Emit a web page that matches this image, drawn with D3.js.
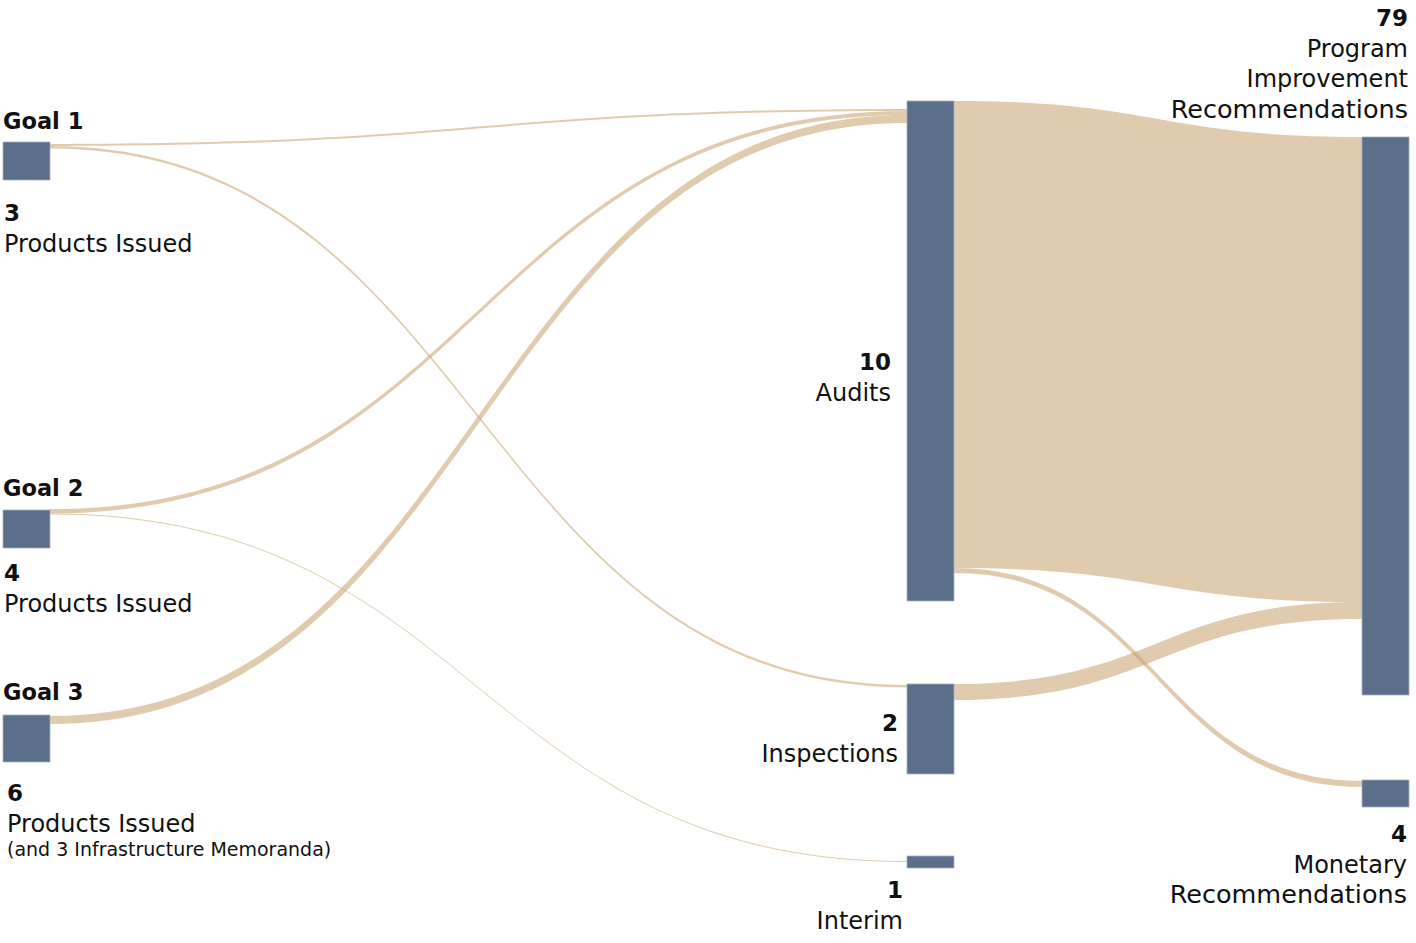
<!DOCTYPE html>
<html>
<head>
<meta charset="utf-8">
<script src="https://cdn.jsdelivr.net/npm/d3@7"></script>
<style>
    body { margin: 0; background: #fff; }
    svg { display: block; font-family: "DejaVu Sans", sans-serif; }
</style>
</head>
<body>
<div id="chart"></div>
<script>
// --- data ---
const nodeIds = ["goal1", "goal2", "goal3", "audits", "inspections", "interim", "program", "monetary"];
const nodeValues = [3, 4, 6, 10, 2, 1, 79, 4];
const nodeTitles = ["Goal 1", "Goal 2", "Goal 3", null, null, null, null, null];
const nodeLabels = [
    ["Products Issued"],
    ["Products Issued"],
    ["Products Issued"],
    ["Audits"],
    ["Inspections"],
    ["Interim"],
    ["Program", "Improvement", "Recommendations"],
    ["Monetary", "Recommendations"]
];
const nodeNotes = [null, null, "(and 3 Infrastructure Memoranda)", null, null, null, null, null];
const nodeColumn = [0, 0, 0, 1, 1, 1, 2, 2];

const linkSource = ["goal1", "goal1", "goal2", "goal2", "goal3", "audits", "audits", "inspections"];
const linkTarget = ["audits", "inspections", "audits", "interim", "audits", "program", "monetary", "program"];
const linkValues = [1, 2, 3, 1, 6, 68, 4, 11];

// --- layout (hand-placed in the original, not proportional to the values) ---
const W = 1416, H = 943;
const NODE_W = 47;
const colX = d3.scaleOrdinal().domain([0, 1, 2]).range([3, 907, 1362]);
const y = d3.scaleLinear().domain([0, H]).range([0, H]);

const nodeTop = [142, 510, 715, 101, 684, 856, 137, 780];
const nodeBottom = [180, 548, 762, 601, 774, 868, 695, 807];
// offset of the first outgoing / incoming band from the node top
const outOffset = [2, -1, 1, 0, 0, 0, 0, 0];
const inOffset = [0, 0, 0, 8, 1, 5, 0, 1];
// band thickness at source end and target end
const bandSource = [2, 2.5, 4.5, 1, 8, 467, 5, 16];
const bandTarget = [2, 2.5, 4, 1, 8, 465, 6, 17];

// label placement: x anchor, baseline of the number, baseline of the title
const labelX = [4, 4, 7, 891, 898, 903, 1408, 1407];
const numberY = [221, 581, 801, 370, 731, 898, 26, 842];
const titleY = [129, 496, 700];
const LINE = 30.5;

const NODE_FILL = "#5b6e8a";
const LINK_FILL = "rgb(200,160,110)";

const svg = d3.select("#chart").append("svg")
    .attr("width", W)
    .attr("height", H)
    .attr("viewBox", `0 0 ${W} ${H}`);

const nodes = nodeIds.map((id, i) => ({
    id,
    value: nodeValues[i],
    x0: colX(nodeColumn[i]),
    x1: colX(nodeColumn[i]) + NODE_W,
    y0: y(nodeTop[i]),
    y1: y(nodeBottom[i]),
    outY: y(nodeTop[i] + outOffset[i]),
    inY: y(nodeTop[i] + inOffset[i]),
    index: i
}));
const byId = new Map(nodes.map(n => [n.id, n]));

// stack bands on each node in link order
const links = linkSource.map((s, i) => {
    const src = byId.get(s);
    const tgt = byId.get(linkTarget[i]);
    const l = {
        source: src, target: tgt, value: linkValues[i],
        sy: src.outY, sw: bandSource[i],
        ty: tgt.inY, tw: bandTarget[i]
    };
    src.outY += bandSource[i];
    tgt.inY += bandTarget[i];
    return l;
});

function ribbon(l) {
    const x0 = l.source.x1, x1 = l.target.x0;
    const xm = (x0 + x1) / 2;
    const p = d3.path();
    p.moveTo(x0, l.sy);
    p.bezierCurveTo(xm, l.sy, xm, l.ty, x1, l.ty);
    p.lineTo(x1, l.ty + l.tw);
    p.bezierCurveTo(xm, l.ty + l.tw, xm, l.sy + l.sw, x0, l.sy + l.sw);
    p.closePath();
    return p.toString();
}

svg.append("g").attr("class", "links")
    .selectAll("path")
    .data(links)
    .join("path")
    .attr("d", ribbon)
    .attr("fill", LINK_FILL)
    .attr("fill-opacity", 0.55);

svg.append("g").attr("class", "nodes")
    .selectAll("rect")
    .data(nodes)
    .join("rect")
    .attr("x", d => d.x0)
    .attr("y", d => d.y0)
    .attr("width", d => d.x1 - d.x0)
    .attr("height", d => d.y1 - d.y0)
    .attr("fill", NODE_FILL)
    .attr("stroke", "#a3afc0")
    .attr("stroke-width", 0.8);

// labels
const labels = svg.append("g").attr("class", "labels").attr("fill", "#111");

nodes.forEach((n, i) => {
    const col = nodeColumn[i];
    const anchor = col === 0 ? "start" : "end";
    const lx = labelX[i];

    if (nodeTitles[i]) {
        labels.append("text")
            .attr("x", 3)
            .attr("y", y(titleY[i]))
            .attr("font-size", 22.5)
            .attr("font-weight", "bold")
            .text(nodeTitles[i]);
    }

    labels.append("text")
        .attr("x", lx)
        .attr("y", y(numberY[i]))
        .attr("text-anchor", anchor)
        .attr("font-size", 23)
        .attr("font-weight", "bold")
        .text(n.value);

    nodeLabels[i].forEach((line, k) => {
        labels.append("text")
            .attr("x", lx)
            .attr("y", y(numberY[i] + LINE * (k + 1)))
            .attr("text-anchor", anchor)
            .attr("font-size", line === "Recommendations" ? 25.5 : 24)
            .text(line);
    });

    if (nodeNotes[i]) {
        labels.append("text")
            .attr("x", lx)
            .attr("y", y(numberY[i] + LINE * nodeLabels[i].length + 24))
            .attr("text-anchor", anchor)
            .attr("font-size", 19)
            .text(nodeNotes[i]);
    }
});
</script>
</body>
</html>
